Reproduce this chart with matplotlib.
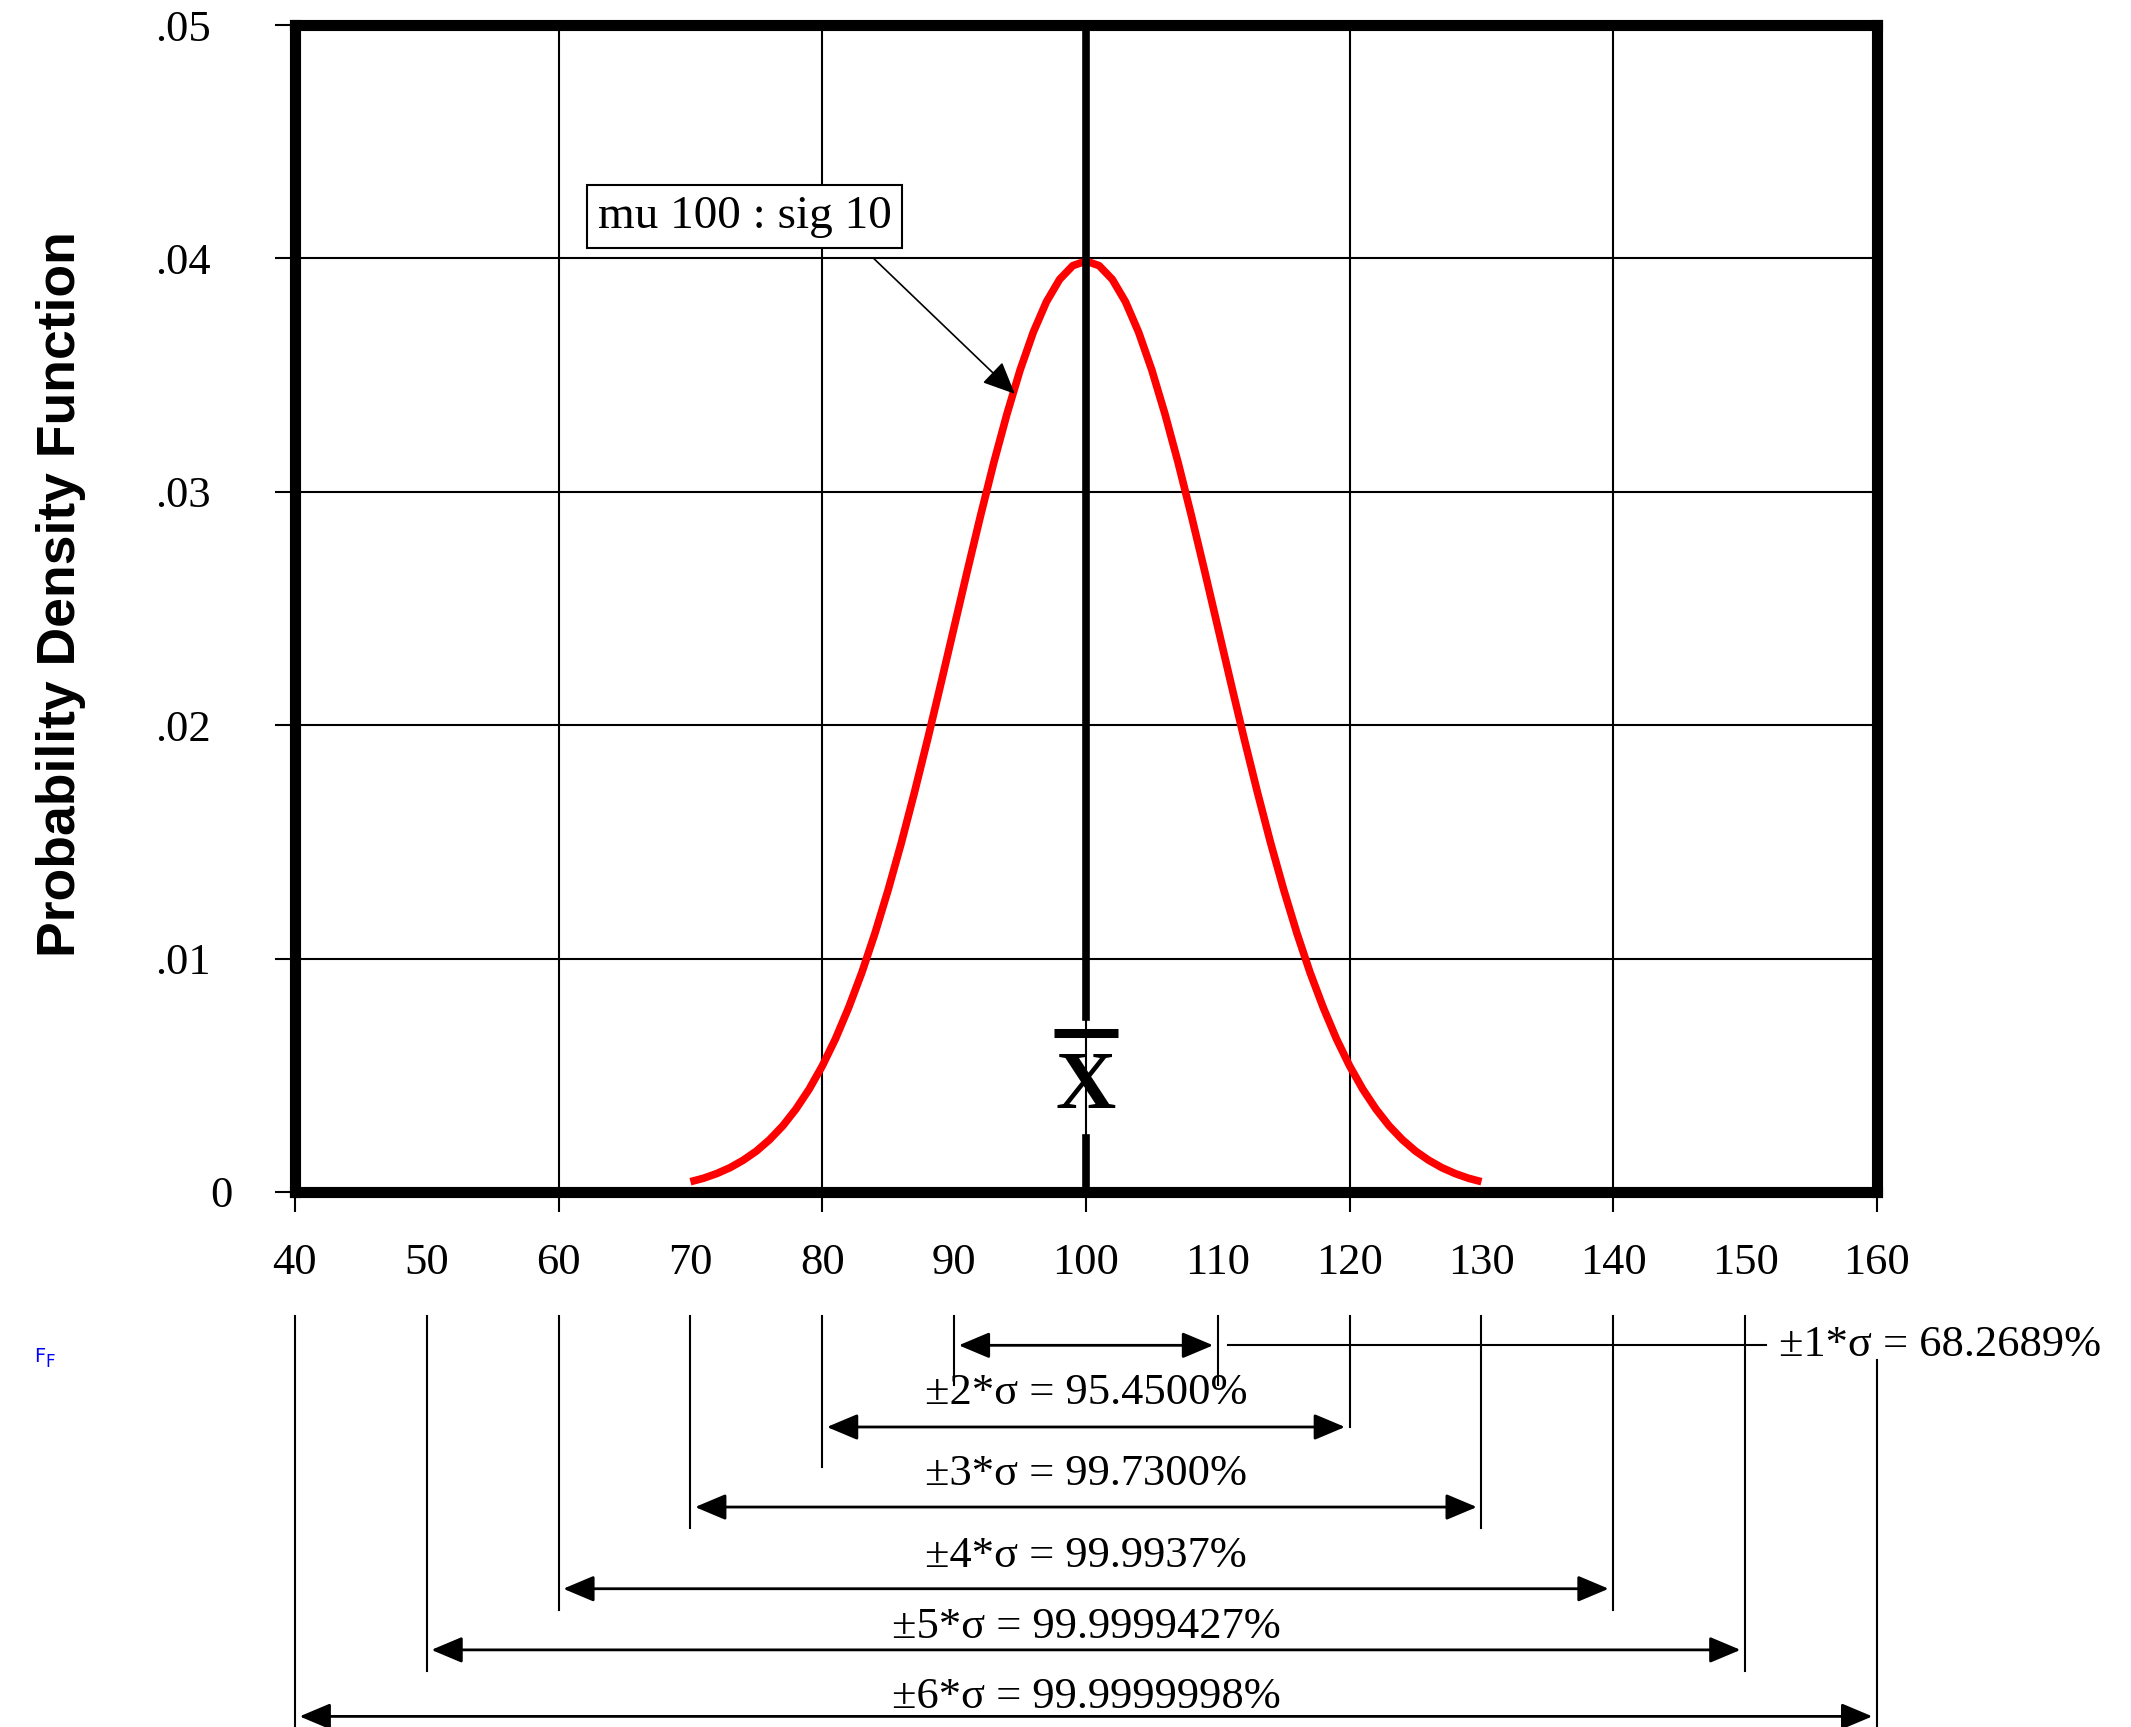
import numpy as np
import matplotlib.pyplot as plt
from matplotlib.transforms import ScaledTranslation

# normal curve, mu 100 / sig 10
mu = 100
sig = 10
curve_x = np.arange(70, 131)
curve_y = [0.00044, 0.00059, 0.00079, 0.00104, 0.00136, 0.00175, 0.00224, 0.00283,
           0.00355, 0.00440, 0.00540, 0.00656, 0.00790, 0.00940, 0.01109, 0.01295,
           0.01497, 0.01714, 0.01942, 0.02179, 0.02420, 0.02661, 0.02897, 0.03123,
           0.03332, 0.03521, 0.03683, 0.03814, 0.03910, 0.03969, 0.03989,
           0.03969, 0.03910, 0.03814, 0.03683, 0.03521, 0.03332, 0.03123, 0.02897,
           0.02661, 0.02420, 0.02179, 0.01942, 0.01714, 0.01497, 0.01295, 0.01109,
           0.00940, 0.00790, 0.00656, 0.00540, 0.00440, 0.00355, 0.00283, 0.00224,
           0.00175, 0.00136, 0.00104, 0.00079, 0.00059, 0.00044]

# sigma bands
sigma_k = [1, 2, 3, 4, 5, 6]
sigma_pct = ['68.2689%', '95.4500%', '99.7300%', '99.9937%', '99.9999427%', '99.9999998%']

# axis ticks
x_major = [40, 60, 80, 100, 120, 140, 160]
x_minor = [50, 70, 90, 110, 130, 150]
y_ticks = [0, 0.01, 0.02, 0.03, 0.04, 0.05]
y_labels = ['0', '.01', '.02', '.03', '.04', '.05']

serif = 'Liberation Serif'

fig = plt.figure(figsize=(21.31, 17.27), dpi=100)
ax = fig.add_axes([0.1384, 0.3098, 0.7424, 0.6757])
ax.set_xlim(40, 160)
ax.set_ylim(0, 0.05)

# grid + ticks
ax.set_xticks(x_major)
ax.set_xticklabels([str(v) for v in x_major])
ax.set_xticks(x_minor, minor=True)
ax.set_xticklabels([str(v) for v in x_minor], minor=True)
ax.set_yticks(y_ticks)
ax.set_yticklabels(y_labels)
ax.grid(which='major', color='black', lw=1.5, zorder=1)
ax.tick_params(axis='x', which='major', length=14.4, width=1.5, pad=22, labelsize=32)
ax.tick_params(axis='x', which='minor', length=0, pad=36.4, labelsize=32)
ax.tick_params(axis='y', length=14.4, width=1.5, pad=46, labelsize=32)
for lab in ax.get_xticklabels(which='both') + ax.get_yticklabels():
    lab.set_family(serif)
# the "0" label sits a bit further right in the original
zero_lab = ax.get_yticklabels()[0]
zero_lab.set_transform(zero_lab.get_transform() + ScaledTranslation(0.22, 0, fig.dpi_scale_trans))
xt = ax.xaxis.get_major_ticks()
xt[0].tick1line.set_color('yellow')
xt[-1].tick1line.set_color('yellow')
yt = ax.yaxis.get_major_ticks()
yt[0].tick1line.set_color('yellow')
yt[-1].tick1line.set_color('yellow')
for sp in ax.spines.values():
    sp.set_linewidth(8)
    sp.set_zorder(5)

# curve
ax.plot(curve_x, curve_y, color='red', lw=5.5, zorder=3, solid_capstyle='butt')

# mean line with x-bar
ax.plot([mu, mu], [0.0075, 0.05], color='black', lw=5.5, zorder=4)
ax.plot([mu, mu], [0, 0.00231], color='black', lw=5.5, zorder=4)
ax.plot([mu - 2.4, mu + 2.4], [0.0068, 0.0068], color='black', lw=6.5, zorder=4,
        solid_capstyle='butt')
ax.text(mu, 0.00445, 'X', ha='center', va='center', fontsize=60, fontweight='bold',
        family=serif, zorder=4)

# label box + arrow
ax.text(74.1, 0.0418, 'mu 100 : sig 10', ha='center', va='center', fontsize=34,
        family=serif, zorder=6,
        bbox=dict(boxstyle='square,pad=0.22', fc='white', ec='black', lw=1.5))
ax.annotate('', xy=(94.6, 0.0342), xytext=(83.9, 0.0400),
            arrowprops=dict(arrowstyle='-|>,head_length=1.0,head_width=0.45',
                            mutation_scale=20, lw=1.2, color='black',
                            shrinkA=0, shrinkB=0), zorder=6)

# sigma band arrows under the axis
arrow_y = [-0.00657, -0.01007, -0.01350, -0.01700, -0.01962, -0.02247]
label_y = [-0.00657, -0.00861, -0.01210, -0.01559, -0.01862, -0.02164]
top_y = -0.0053
gap = 0.35
for i, k in enumerate(sigma_k):
    lo = mu - k * sig
    hi = mu + k * sig
    ya = arrow_y[i]
    # extension lines
    below_lo = 0.0017 if k <= 2 else 0.0009
    below_hi = 0.0017 if k == 1 else (0.0 if k == 2 else 0.0009)
    top_hi = -0.0072 if k == 6 else top_y
    ax.plot([lo, lo], [top_y, ya - below_lo], color='black', lw=1.5, clip_on=False)
    ax.plot([hi, hi], [top_hi, ya - below_hi], color='black', lw=1.5, clip_on=False)
    ax.annotate('', xy=(hi - gap, ya), xytext=(lo + gap, ya),
                arrowprops=dict(arrowstyle='<|-|>,head_length=0.95,head_width=0.4',
                                mutation_scale=20, lw=2, color='black',
                                shrinkA=0, shrinkB=0),
                annotation_clip=False)
    txt = u'\u00b1%d*\u03c3 = %s' % (k, sigma_pct[i])
    if k == 1:
        ax.plot([hi + 0.8, 151.6], [ya, ya], color='black', lw=1.5, clip_on=False)
        ax.text(152.6, ya, txt, ha='left', va='center', fontsize=32, family=serif,
                clip_on=False)
    else:
        ax.text(mu, label_y[i], txt, ha='center', va='center', fontsize=32,
                family=serif, clip_on=False)

fig.text(61 / 2131, 1 - 594 / 1727, 'Probability Density Function', rotation=90,
         ha='center', va='center', fontsize=38.5, fontweight='bold',
         family='Liberation Sans')
fig.text(34 / 2131, 1 - 1357 / 1727, 'F', color='blue', fontsize=14, ha='left', va='center')
fig.text(45 / 2131, 1 - 1362 / 1727, 'F', color='blue', fontsize=12, ha='left', va='center')

fig.savefig('out.png', dpi=100)
